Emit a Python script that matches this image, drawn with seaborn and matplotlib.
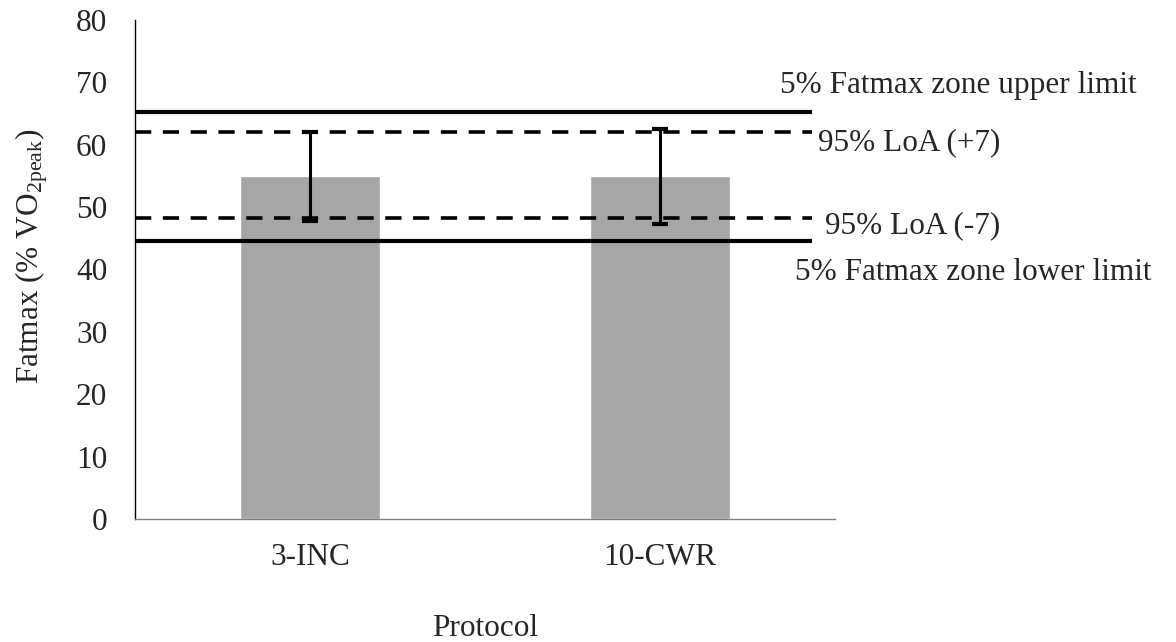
import matplotlib
matplotlib.use("Agg")
import matplotlib.pyplot as plt
import seaborn as sns
import pandas as pd
import numpy as np

protocols = ["3-INC", "10-CWR"]
fatmax = [55, 55]
err_low = [47.7, 47.3]
err_high = [62.1, 62.6]
zone_upper = 65.2
zone_lower = 44.6
loa_upper = 62.0
loa_lower = 48.3
y_ticks = [0, 10, 20, 30, 40, 50, 60, 70, 80]

sns.set_theme(style="white")
plt.rcParams["font.family"] = ["Liberation Serif", "DejaVu Serif"]
plt.rcParams["mathtext.fontset"] = "custom"
plt.rcParams["mathtext.rm"] = "Liberation Serif"
plt.rcParams["mathtext.it"] = "Liberation Serif"

FS = 22.5

fig = plt.figure(figsize=(11.76, 6.42), dpi=100)
ax = fig.add_axes([135 / 1176, 1 - 519 / 642, 700 / 1176, 499 / 642])

df = pd.DataFrame({"Protocol": protocols, "Fatmax": fatmax})
sns.barplot(data=df, x="Protocol", y="Fatmax", color="#a6a6a6", saturation=1,
            width=0.4, errorbar=None, ax=ax)

xs = np.arange(len(protocols))
yerr = [np.array(fatmax) - np.array(err_low), np.array(err_high) - np.array(fatmax)]
ax.errorbar(xs, fatmax, yerr=yerr, fmt="none", ecolor="black", elinewidth=2.2,
            capsize=6, capthick=3, zorder=5)

xend = 1.434
ax.hlines([zone_upper, zone_lower], -0.5, xend, colors="black", linewidth=3.0, zorder=4)
ax.hlines([loa_upper, loa_lower], -0.5, xend, colors="black", linewidth=2.6,
          linestyles=(0, (4.5, 3.2)), zorder=4)

ax.set_xlim(-0.5, 1.5)
ax.set_ylim(0, 80)
ax.set_yticks(y_ticks)
ax.set_yticklabels([str(t) for t in y_ticks], fontsize=FS)
ax.set_xticks(xs)
ax.set_xticklabels(protocols, fontsize=FS)
ax.set_xticks([-0.5, 0.5, 1.5], minor=True)
ax.tick_params(axis="x", which="major", length=0, pad=17)
ax.tick_params(axis="x", which="minor", length=6, width=1, color="#808080", direction="out")
ax.tick_params(axis="y", which="major", length=6, width=1, color="#808080", direction="out", pad=14)

for s in ["top", "right"]:
    ax.spines[s].set_visible(False)
ax.spines["left"].set_color("black")
ax.spines["left"].set_linewidth(1)
ax.spines["bottom"].set_color("#808080")
ax.spines["bottom"].set_linewidth(1)

ax.set_xlabel("Protocol", fontsize=FS, va="center")
ax.xaxis.set_label_coords(0.5, -110 / 499)
ax.set_ylabel(r"Fatmax (% VO$_{\mathregular{2peak}}$)", fontsize=FS, va="center")
ax.yaxis.set_label_coords(-(135 - 32) / 700, (519 - 256) / 499)

fig.text(780 / 1176, 1 - 93 / 642, "5% Fatmax zone upper limit", fontsize=FS, va="baseline", ha="left")
fig.text(818 / 1176, 1 - 150 / 642, "95% LoA (+7)", fontsize=FS, va="baseline", ha="left")
fig.text(825 / 1176, 1 - 233 / 642, "95% LoA (-7)", fontsize=FS, va="baseline", ha="left")
fig.text(795 / 1176, 1 - 280 / 642, "5% Fatmax zone lower limit", fontsize=FS, va="baseline", ha="left")

fig.savefig("out.png", dpi=100, facecolor="white")
